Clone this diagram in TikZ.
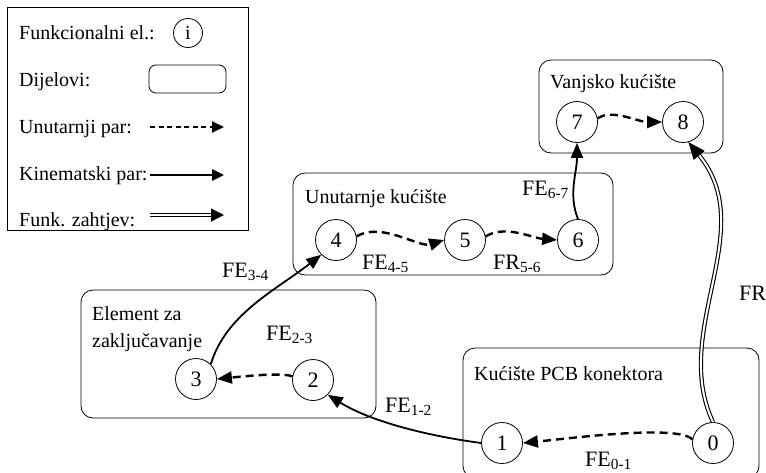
\documentclass[tikz,border=0pt]{standalone}
\usepackage{fontspec}
\setmainfont{Liberation Serif}
\usetikzlibrary{arrows.meta}
\begin{document}
\begin{tikzpicture}[x=1pt,y=-1pt,
  every node/.style={font=\fontsize{20}{24}\selectfont, inner sep=0pt},
  fe/.style={circle,draw,line width=0.8pt,minimum size=41pt,inner sep=0pt,font=\fontsize{22}{26}\selectfont},
  part/.style={draw,rounded corners=12pt,line width=0.8pt},
  lbl/.style={anchor=base west},
  elbl/.style={anchor=base west,font=\fontsize{22}{26}\selectfont},
  tip/.style={-{Triangle[length=15pt,width=12pt]}},
  unut/.style={tip,dash pattern=on 8pt off 5pt,line width=2.4pt},
  kin/.style={tip,line width=1.8pt},
  zaht/.style={double,double distance=2pt,line width=1.1pt,-{Triangle[length=17pt,width=14pt]}}
]
\useasboundingbox (0,0) rectangle (766,472);
\clip (0,0) rectangle (766,472);

% legend
\node[draw,line width=0.8pt,minimum width=241pt,minimum height=223pt] (legend) at (127.5,118.5) {};
\node[lbl] (t1) at (19,39) {Funkcionalni el.:};
\node[lbl] (t2) at (19,86) {Dijelovi:};
\node[lbl] (t3) at (19,133) {Unutarnji par:};
\node[lbl] (t4) at (19,180) {Kinematski par:};
\node[lbl] (t5) at (19,226) {Funk. zahtjev:};
\node[circle,draw,line width=0.8pt,minimum size=29pt] (li) at (188,33) {i};
\node[draw,rounded corners=7pt,line width=0.8pt,minimum width=77pt,minimum height=28pt] (lp) at (187.5,79) {};
\coordinate (ua) at (150,127); \coordinate (ub) at (224,127);
\coordinate (ka) at (150,175); \coordinate (kb) at (224,175);
\coordinate (za) at (150,215); \coordinate (zb) at (224,215);
\draw[unut,dash pattern=on 5pt off 3.5pt,line width=2.2pt,-{Triangle[length=12pt,width=11pt]}] (ua) -- (ub);
\draw[kin,line width=2.6pt,-{Triangle[length=12pt,width=11pt]}] (ka) -- (kb);
\draw[zaht,line width=1.4pt,double distance=1.6pt,-{Triangle[length=13pt,width=13pt]}] (za) -- (zb);

% parts
\node[part,minimum width=184pt,minimum height=93pt] (vanjsko) at (631,106.5) {};
\node[part,minimum width=320pt,minimum height=102pt] (unutarnje) at (453,224) {};
\node[part,minimum width=295pt,minimum height=128pt] (element) at (228.5,354) {};
\node[part,minimum width=296pt,minimum height=130pt] (pcb) at (611,413) {};
\node[lbl] (tv) at (550,88) {Vanjsko kućište};
\node[lbl] (tu) at (305,203) {Unutarnje kućište};
\node[lbl] (te1) at (92,320) {Element za};
\node[lbl] (te2) at (92,347) {zaključavanje};
\node[lbl] (tp) at (474,380) {Kućište PCB konektora};

% functional elements
\node[fe] (n0) at (713,443) {0};
\node[fe] (n1) at (502,443) {1};
\node[fe] (n2) at (313,380) {2};
\node[fe] (n3) at (196,379) {3};
\node[fe] (n4) at (336,240) {4};
\node[fe] (n5) at (465,240) {5};
\node[fe] (n6) at (578,240) {6};
\node[fe] (n7) at (577,122) {7};
\node[fe] (n8) at (683,122) {8};

% connectors
\draw[unut] (n0.170) .. controls +(-15,-15) and +(50,-5) .. (n1.east);
\draw[kin] (n1.west) .. controls +(-60,-8) and +(40,25) .. (n2.-45);
\draw[unut] (n2.170) .. controls +(-10,-4) and +(30,-3) .. (n3.east);
\draw[kin] (n3.45) .. controls +(15,-50) and +(-45,35) .. (n4.-135);
\draw[unut] (n4.10) .. controls +(25,-15) and +(-25,8) .. (n5.west);
\draw[unut] (n5.10) .. controls +(20,-12) and +(-25,-2) .. (n6.west);
\draw[kin] (n6.north) .. controls +(-10,-25) and +(0,30) .. (n7.south);
\draw[unut] (n7.10) .. controls +(15,-10) and +(-25,0) .. (n8.west);
\draw[zaht] (n0.north) .. controls +(-43,-92) and +(72,88) .. (n8.-75);

% labels
\node[elbl] (l01) at (585,466) {FE\textsubscript{0-1}};
\node[elbl] (l12) at (385,412) {FE\textsubscript{1-2}};
\node[elbl] (l23) at (266,340) {FE\textsubscript{2-3}};
\node[elbl] (l34) at (222,277) {FE\textsubscript{3-4}};
\node[elbl] (l45) at (362,269) {FE\textsubscript{4-5}};
\node[elbl] (l56) at (493,269) {FR\textsubscript{5-6}};
\node[elbl] (l67) at (522,195) {FE\textsubscript{6-7}};
\node[elbl] (l08) at (739,300) {FR};
\end{tikzpicture}
\end{document}
